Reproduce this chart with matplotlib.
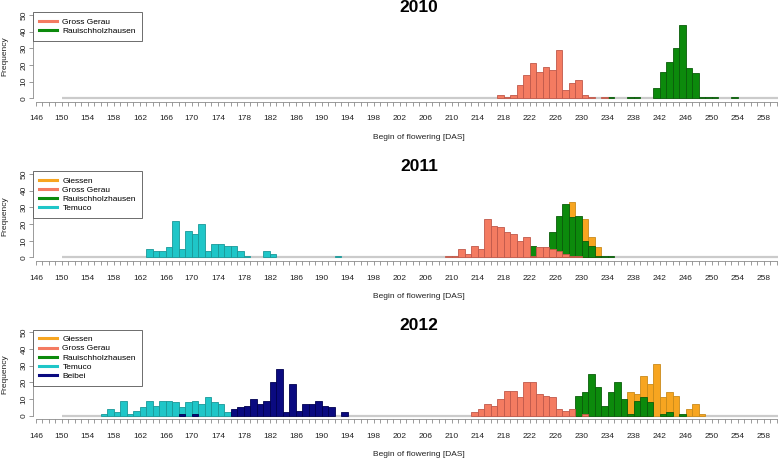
import matplotlib
matplotlib.use("Agg")
import matplotlib.pyplot as plt
from matplotlib.lines import Line2D

plt.rcParams["font.family"] = ["Liberation Sans", "DejaVu Sans"]

# begin of flowering [DAS] -> number of plants, one bar per day
gg_2010_days = list(range(217, 232)) + [233]
gg_2010_counts = [2, 1, 2, 8, 14, 21, 16, 19, 17, 29, 5, 9, 11, 2, 1, 1]
rh_2010_days = [234, 237, 238, 241, 242, 243, 244, 245, 246, 247, 248, 249, 250, 253]
rh_2010_counts = [1, 1, 1, 6, 16, 22, 30, 44, 18, 15, 1, 1, 1, 1]

gi_2011_days = [228, 230, 231, 232]
gi_2011_counts = [33, 23, 12, 6]
gg_2011_days = list(range(209, 230))
gg_2011_counts = [1, 1, 5, 2, 7, 5, 23, 19, 18, 15, 14, 10, 12, 1, 6, 6, 5, 4, 2, 1, 1]
rh_2011_days = [222, 225, 226, 227, 228, 229, 230, 231, 232, 233, 234]
rh_2011_counts = [7, 15, 25, 32, 24, 25, 10, 7, 1, 1, 1]
te_2011_days = list(range(163, 179)) + [181, 182, 192]
te_2011_counts = [5, 4, 4, 6, 22, 5, 16, 14, 20, 4, 8, 8, 7, 7, 4, 1, 4, 2, 1]

gi_2012_days = [237, 238, 239, 240, 241, 242, 243, 244, 246, 247, 248]
gi_2012_counts = [14, 13, 24, 19, 31, 11, 14, 12, 4, 7, 1]
gg_2012_days = list(range(213, 229)) + [230]
gg_2012_counts = [2, 4, 7, 6, 10, 15, 15, 11, 20, 20, 13, 12, 11, 4, 3, 4, 1]
rh_2012_days = list(range(229, 241)) + [242, 243, 245]
rh_2012_counts = [12, 14, 25, 17, 6, 14, 20, 10, 1, 9, 11, 8, 1, 2, 1]
te_2012_days = list(range(156, 176))
te_2012_counts = [1, 4, 2, 9, 1, 3, 5, 9, 6, 9, 9, 8, 5, 8, 9, 7, 11, 8, 7, 2]
bb_2012_days = [168, 170] + list(range(176, 192)) + [193]
bb_2012_counts = [1, 1, 4, 5, 6, 10, 7, 9, 20, 28, 2, 19, 3, 7, 7, 9, 6, 5, 2]

years = ["2010", "2011", "2012"]
x_labels = list(range(146, 259, 4))
y_ticks = [0, 10, 20, 30, 40, 50]

# name -> (fill, border)
colors = {
    "Giessen": ("#F7A520", "#C98A1A"),
    "Gross Gerau": ("#F47B61", "#C0584A"),
    "Rauischholzhausen": ("#0C8A0C", "#0A5C0A"),
    "Temuco": ("#1FC6C8", "#1A9898"),
    "Beibei": ("#0A0A80", "#000050"),
}

panels = {
    "2010": {
        "Gross Gerau": (gg_2010_days, gg_2010_counts),
        "Rauischholzhausen": (rh_2010_days, rh_2010_counts),
    },
    "2011": {
        "Giessen": (gi_2011_days, gi_2011_counts),
        "Gross Gerau": (gg_2011_days, gg_2011_counts),
        "Rauischholzhausen": (rh_2011_days, rh_2011_counts),
        "Temuco": (te_2011_days, te_2011_counts),
    },
    "2012": {
        "Giessen": (gi_2012_days, gi_2012_counts),
        "Gross Gerau": (gg_2012_days, gg_2012_counts),
        "Rauischholzhausen": (rh_2012_days, rh_2012_counts),
        "Temuco": (te_2012_days, te_2012_counts),
        "Beibei": (bb_2012_days, bb_2012_counts),
    },
}

# back to front
draw_order = ["Giessen", "Rauischholzhausen", "Gross Gerau", "Temuco", "Beibei"]

W, H = 778, 461
fig = plt.figure(figsize=(W / 100, H / 100), dpi=100)

ax_left = 33.3
ax_right = 804.7
ax_h = 90.0
bottoms = [101.6, 260.8, 419.0]

for year, bottom in zip(years, bottoms):
    ax = fig.add_axes([ax_left / W, 1 - bottom / H, (ax_right - ax_left) / W, ax_h / H])
    series = panels[year]

    ax.plot([150, 264.3], [0, 0], color="#CBCBCB", lw=1.6, zorder=1, solid_capstyle="butt")

    z = 2
    for name in draw_order:
        if name not in series:
            continue
        days, counts = series[name]
        fill, border = colors[name]
        ax.bar(days, counts, width=1, align="edge", color=fill,
               edgecolor=border, linewidth=0.6, zorder=z)
        z += 1

    ax.set_xlim(145.6, 264.3)
    ax.set_ylim(-2, 52)

    for side in ["top", "right"]:
        ax.spines[side].set_visible(False)
    ax.spines["bottom"].set_bounds(146, 260)
    ax.spines["left"].set_bounds(0, 50)
    for side in ["bottom", "left"]:
        ax.spines[side].set_color("#8A8A8A")
        ax.spines[side].set_linewidth(0.6)

    ticks = list(range(146, 261))
    ax.set_xticks(ticks)
    ax.set_xticklabels([str(t) if t in x_labels else "" for t in ticks])
    ax.set_yticks(y_ticks)
    ax.set_yticklabels([str(t) for t in y_ticks], rotation=90, va="center")
    ax.tick_params(axis="x", length=3, width=0.6, color="#8A8A8A", pad=7.0,
                   labelsize=6, labelcolor="#222222")
    ax.tick_params(axis="y", length=3, width=0.6, color="#8A8A8A", pad=1.2,
                   labelsize=6, labelcolor="#222222")

    ax.text(0.5, 1 + 4 / ax_h, year, transform=ax.transAxes, ha="center",
            va="center", fontsize=12.5, fontweight="bold")
    ax.text(0.5, -36 / ax_h, "Begin of flowering [DAS]", transform=ax.transAxes,
            ha="center", va="center", fontsize=6, color="#222222")
    ax.text((5 - ax_left) / (ax_right - ax_left), 0.5, "Frequency", transform=ax.transAxes,
            ha="center", va="center", rotation=90, fontsize=6, color="#222222")

    legend_names = [n for n in ["Giessen", "Gross Gerau", "Rauischholzhausen", "Temuco", "Beibei"]
                    if n in series]
    handles = [Line2D([0], [0], color=colors[n][0], lw=2.2) for n in legend_names]
    leg = ax.legend(handles, legend_names, loc="upper left",
                    bbox_to_anchor=(0, 1 - 0.7 / ax_h), borderaxespad=0,
                    fontsize=6, handlelength=2.2, handletextpad=0.6,
                    borderpad=0.7, labelspacing=0.15, fancybox=False,
                    framealpha=1, edgecolor="#555555")
    leg.get_frame().set_linewidth(0.6)
    leg.set_zorder(10)

fig.savefig("out.png", dpi=100)
